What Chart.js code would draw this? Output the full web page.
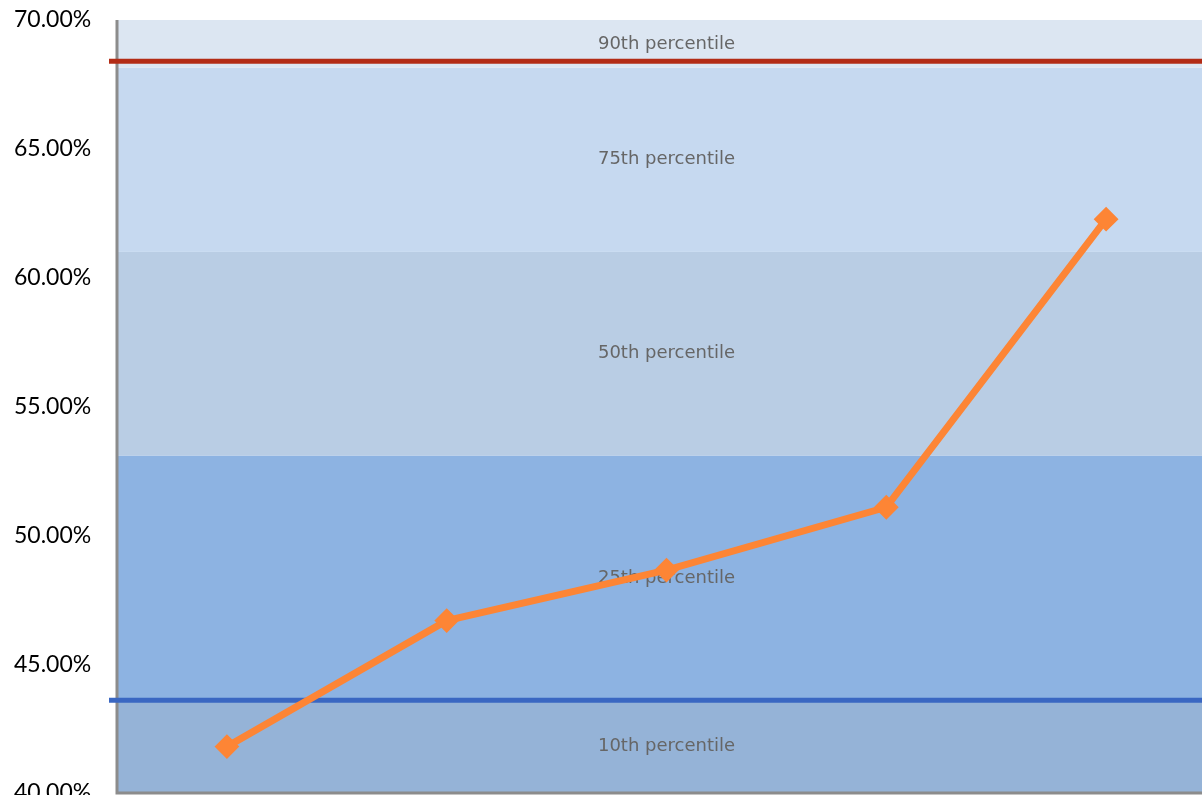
<!DOCTYPE html>
<html>
<head>
<meta charset="utf-8">
<title>Percentile chart</title>
<script src="https://cdn.jsdelivr.net/npm/chart.js@4/dist/chart.umd.min.js"></script>
<style>
  html, body { margin: 0; padding: 0; background: #fff; overflow: hidden; }
  #wrap { width: 1202px; height: 795px; overflow: hidden; position: relative; }
  #chart { position: absolute; left: 0; top: 0; max-width: none; }
</style>
</head>
<body>
<div id="wrap"><canvas id="chart" width="1229" height="814"></canvas></div>
<script>
// Chart data
const categories = ['1', '2', '3', '4', '5'];
const seriesValues = [41.80, 46.69, 48.65, 51.09, 62.27];

// Percentile bands (edges from bottom to top) and their labels
const bandEdges = [40, 43.6, 53.1, 61.0, 68.15, 70];
const bandLabels = ['10th percentile', '25th percentile', '50th percentile', '75th percentile', '90th percentile'];

// Reference lines: 90th and 10th percentile markers
const refLineValues = [68.4, 43.6];

// Y axis ticks
const yMin = 40;
const yMax = 70;
const yStep = 5;

// Styles
const bandColors = ['#95b3d7', '#8db3e2', '#b9cde4', '#c6d9f0', '#dce6f2'];
const refLineColors = ['#b32c16', '#3a67c2'];

// Bands + band labels, drawn before the scales
const bandsPlugin = {
  id: 'bands',
  beforeDraw(chart) {
    const {ctx, chartArea, scales: {y}} = chart;
    ctx.save();
    for (let i = 0; i < bandLabels.length; i++) {
      const top = y.getPixelForValue(bandEdges[i + 1]);
      const bottom = y.getPixelForValue(bandEdges[i]);
      ctx.fillStyle = bandColors[i];
      ctx.fillRect(chartArea.left, top, chartArea.right - chartArea.left, bottom - top);
    }
    ctx.font = '18px "DejaVu Sans"';
    ctx.fillStyle = '#666666';
    ctx.textAlign = 'center';
    ctx.textBaseline = 'middle';
    const cx = (chartArea.left + chartArea.right) / 2;
    for (let i = 0; i < bandLabels.length; i++) {
      const mid = (bandEdges[i] + bandEdges[i + 1]) / 2;
      ctx.fillText(bandLabels[i], cx, y.getPixelForValue(mid));
    }
    ctx.restore();
  },
  beforeDatasetsDraw(chart) {
    const {ctx, chartArea, scales: {y}} = chart;
    ctx.save();
    // axis lines
    ctx.strokeStyle = '#8c8c8c';
    ctx.lineWidth = 3;
    ctx.beginPath();
    ctx.moveTo(chartArea.left, chartArea.top);
    ctx.lineTo(chartArea.left, chartArea.bottom);
    ctx.lineTo(chartArea.right, chartArea.bottom);
    ctx.stroke();
    // reference lines
    ctx.lineWidth = 5;
    refLineValues.forEach((v, i) => {
      const py = y.getPixelForValue(v);
      ctx.strokeStyle = refLineColors[i];
      ctx.beginPath();
      ctx.moveTo(chartArea.left - 8, py);
      ctx.lineTo(chartArea.right, py);
      ctx.stroke();
    });
    ctx.restore();
  }
};

let chartCon = document.getElementById('chart');

let chartData = {
  labels: categories,
  datasets: [
    {
      label: 'Value',
      data: seriesValues,
      borderColor: '#fd8535',
      backgroundColor: '#fd8535',
      borderWidth: 7,
      pointStyle: 'rectRot',
      pointRadius: 11,
      pointBorderWidth: 2,
      pointBackgroundColor: '#fd8535',
      pointBorderColor: '#fd8535',
      tension: 0
    }
  ]
};

let chartOptions = {
  responsive: false,
  animation: false,
  layout: {
    padding: {top: 20, right: 1, bottom: 21, left: 14}
  },
  scales: {
    x: {
      type: 'category',
      offset: true,
      display: false
    },
    y: {
      min: yMin,
      max: yMax,
      grid: {display: false, drawTicks: false},
      border: {display: false},
      ticks: {
        stepSize: yStep,
        padding: 0,
        crossAlign: 'far',
        color: '#000',
        font: {family: 'Lato', size: 23},
        callback: function (v) {
          return v.toFixed(2) + '%';
        }
      },
      afterFit: function (scale) {
        scale.width = 103;
      }
    }
  },
  plugins: {
    legend: {display: false},
    tooltip: {enabled: false}
  }
};

new Chart(chartCon, {type: 'line', data: chartData, options: chartOptions, plugins: [bandsPlugin]});
</script>
</body>
</html>
